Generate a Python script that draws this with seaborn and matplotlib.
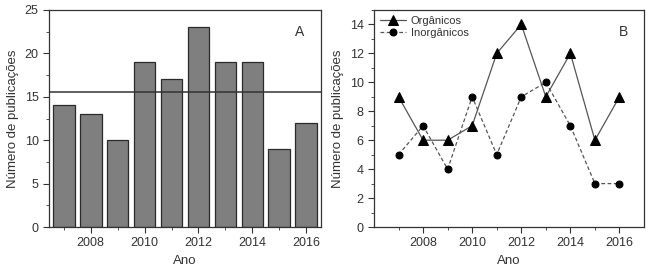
import pandas as pd
import matplotlib.pyplot as plt
import seaborn as sns
import numpy as np
from matplotlib.ticker import MultipleLocator, FixedLocator

# Dados
anos = [2007, 2008, 2009, 2010, 2011, 2012, 2013, 2014, 2015, 2016]
total_pub = [14, 13, 10, 19, 17, 23, 19, 19, 9, 12]
organicos = [9, 6, 6, 7, 12, 14, 9, 12, 6, 9]
inorganicos = [5, 7, 4, 9, 5, 9, 10, 7, 3, 3]
anos_ticks = [2008, 2010, 2012, 2014, 2016]

sns.set_style("ticks")
plt.rcParams['font.family'] = ['Liberation Sans', 'DejaVu Sans']
plt.rcParams['axes.linewidth'] = 0.9
plt.rcParams['xtick.major.size'] = 4
plt.rcParams['ytick.major.size'] = 4
plt.rcParams['xtick.minor.size'] = 2.5
plt.rcParams['ytick.minor.size'] = 2.5

df_total = pd.DataFrame({'Ano': anos, 'Total': total_pub})
df_tipo = pd.DataFrame({'Ano': anos * 2,
                        'Publicacoes': organicos + inorganicos,
                        'Tipo': ['Orgânicos'] * len(anos) + ['Inorgânicos'] * len(anos)})

fig = plt.figure(figsize=(6.52, 2.74), dpi=100)
ax1 = fig.add_axes([49/652, 1 - 227/274, 272/652, 217/274])
ax2 = fig.add_axes([374/652, 1 - 227/274, 270/652, 217/274])

cor_texto = '#333333'

# Painel A - barras
sns.barplot(data=df_total, x='Ano', y='Total', native_scale=True, color='#7f7f7f',
            saturation=1, edgecolor='#2a2a2a', linewidth=0.9, width=0.8, ax=ax1)
ax1.axhline(np.mean(total_pub), color='#333333', lw=1.1)
ax1.set_xlim(2006.45, 2016.55)
ax1.set_ylim(0, 25)
ax1.yaxis.set_major_locator(MultipleLocator(5))
ax1.yaxis.set_minor_locator(MultipleLocator(2.5))
ax1.text(0.94, 0.9, 'A', transform=ax1.transAxes, ha='right', va='center', fontsize=10, color=cor_texto)

# Painel B - linhas
sns.lineplot(data=df_tipo, x='Ano', y='Publicacoes', style='Tipo', markers={'Orgânicos': '^', 'Inorgânicos': 'o'},
             dashes={'Orgânicos': '', 'Inorgânicos': (3, 2)}, color='#555555', lw=0.9,
             markersize=5, markerfacecolor='black', markeredgecolor='black', ax=ax2)
for ln in ax2.lines:
    if ln.get_marker() == '^':
        ln.set_markersize(6.5)
ax2.set_xlim(2006, 2017)
ax2.set_ylim(0, 15)
ax2.yaxis.set_major_locator(MultipleLocator(2))
ax2.yaxis.set_minor_locator(MultipleLocator(1))
ax2.text(0.94, 0.9, 'B', transform=ax2.transAxes, ha='right', va='center', fontsize=10, color=cor_texto)
leg = ax2.legend(loc='upper left', frameon=False, fontsize=8, handlelength=2.4,
                 borderaxespad=0.1, labelspacing=0.2, handletextpad=0.4)
for t in leg.get_texts():
    t.set_color(cor_texto)
for h in leg.legend_handles:
    if h.get_marker() == '^':
        h.set_markersize(6.5)
    else:
        h.set_markersize(5)

for ax in (ax1, ax2):
    ax.xaxis.set_major_locator(FixedLocator(anos_ticks))
    ax.xaxis.set_minor_locator(FixedLocator(anos))
    ax.set_xlabel('Ano', fontsize=9.5, color=cor_texto)
    ax.set_ylabel('Número de publicações', fontsize=9.5, color=cor_texto)
    for s in ax.spines.values():
        s.set_visible(True)
        s.set_color('#333333')
    ax.tick_params(which='both', direction='out', colors='#333333', labelsize=9, top=False, right=False)

plt.savefig('out.png', dpi=100)
